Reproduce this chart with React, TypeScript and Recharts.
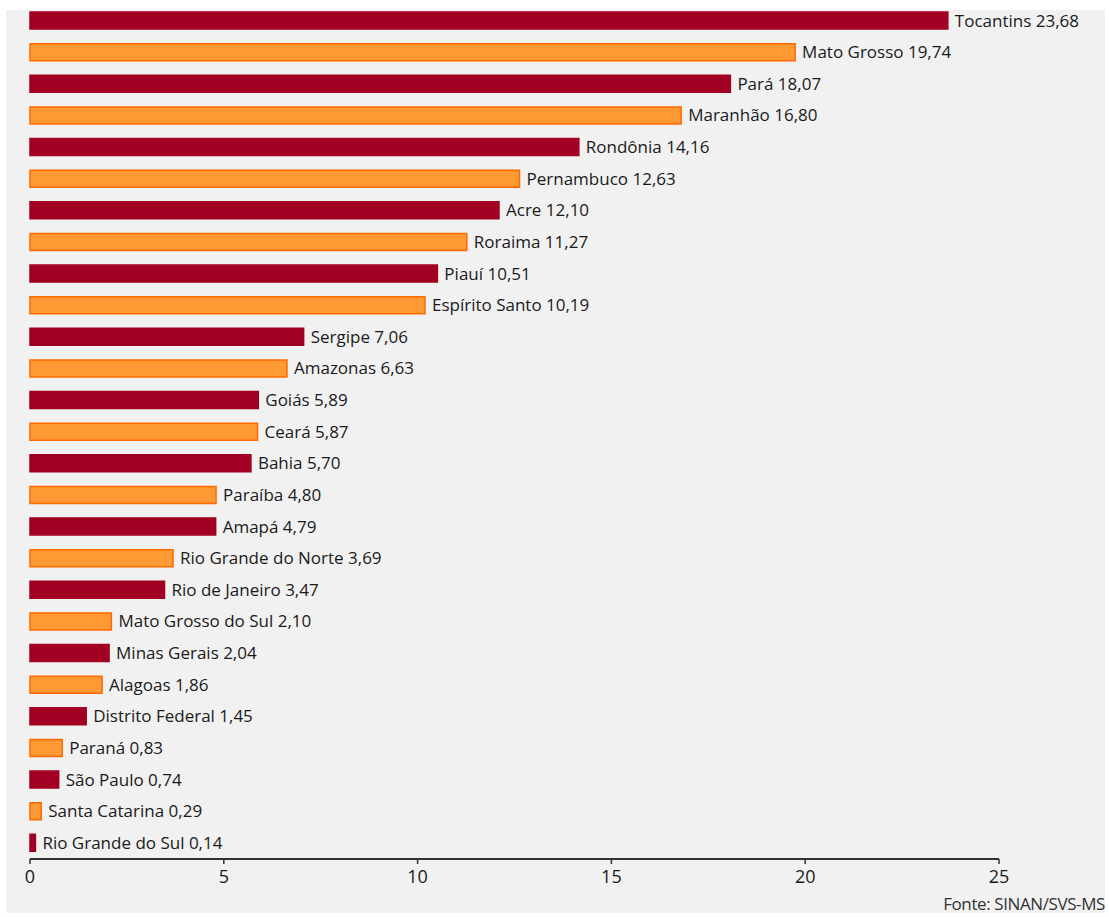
import React from "react";
import { BarChart, Bar, XAxis, YAxis, Cell, LabelList } from "recharts";

const states = [
  "Tocantins", "Mato Grosso", "Pará", "Maranhão", "Rondônia", "Pernambuco", "Acre",
  "Roraima", "Piauí", "Espírito Santo", "Sergipe", "Amazonas", "Goiás", "Ceará",
  "Bahia", "Paraíba", "Amapá", "Rio Grande do Norte", "Rio de Janeiro",
  "Mato Grosso do Sul", "Minas Gerais", "Alagoas", "Distrito Federal", "Paraná",
  "São Paulo", "Santa Catarina", "Rio Grande do Sul",
];
const values = [
  23.68, 19.74, 18.07, 16.8, 14.16, 12.63, 12.1, 11.27, 10.51, 10.19, 7.06, 6.63,
  5.89, 5.87, 5.7, 4.8, 4.79, 3.69, 3.47, 2.1, 2.04, 1.86, 1.45, 0.83, 0.74, 0.29, 0.14,
];
const xTicks = [0, 5, 10, 15, 20, 25];
const source = "Fonte: SINAN/SVS-MS";

const data = states.map((s, i) => ({
  name: s,
  value: values[i],
  label: `${s} ${values[i].toFixed(2).replace(".", ",")}`,
}));

const FONT = "'Open Sans', 'Noto Sans', sans-serif";

export default function App() {
  return (
    <div style={{ position: "absolute", left: 0, top: 0, width: 1109, height: 917, background: "#ffffff" }}>
      <div style={{ position: "absolute", left: 6, top: 10, width: 1099, height: 903, background: "#f1f1f1" }} />
      <div style={{ position: "absolute", left: 0, top: 0 }}>
        <BarChart
          width={1109}
          height={917}
          data={data}
          layout="vertical"
          margin={{ top: 5, right: 110, bottom: 28, left: 30 }}
          barSize={17}
        >
          <XAxis
            type="number"
            domain={[0, 25]}
            ticks={xTicks}
            height={30}
            tickLine={{ stroke: "#333", strokeWidth: 1.5 }}
            tickSize={5}
            axisLine={{ stroke: "#333", strokeWidth: 2 }}
            tick={{ fill: "#1a1a1a", fontSize: 18, fontFamily: FONT, fontWeight: 500, dy: 4 }}
          />
          <YAxis
            type="category"
            dataKey="name"
            width={0}
            tick={false}
            tickLine={false}
            axisLine={{ stroke: "#333", strokeWidth: 2 }}
          />
          <Bar dataKey="value" isAnimationActive={false}>
            {data.map((d, i) => (
              <Cell
                key={d.name}
                fill={i % 2 === 0 ? "#a20022" : "#ff9933"}
                stroke={i % 2 === 0 ? "#a20022" : "#ff6a00"}
                strokeWidth={1.5}
              />
            ))}
            <LabelList
              dataKey="label"
              position="right"
              offset={7}
              style={{ fill: "#1a1a1a", fontSize: 17, fontFamily: FONT, fontWeight: 500 }}
            />
          </Bar>
        </BarChart>
      </div>
      <div
        style={{
          position: "absolute",
          right: 4,
          top: 892,
          fontFamily: FONT,
          fontSize: 17,
          fontWeight: 500,
          color: "#333",
          letterSpacing: -0.4,
        }}
      >
        {source}
      </div>
    </div>
  );
}
